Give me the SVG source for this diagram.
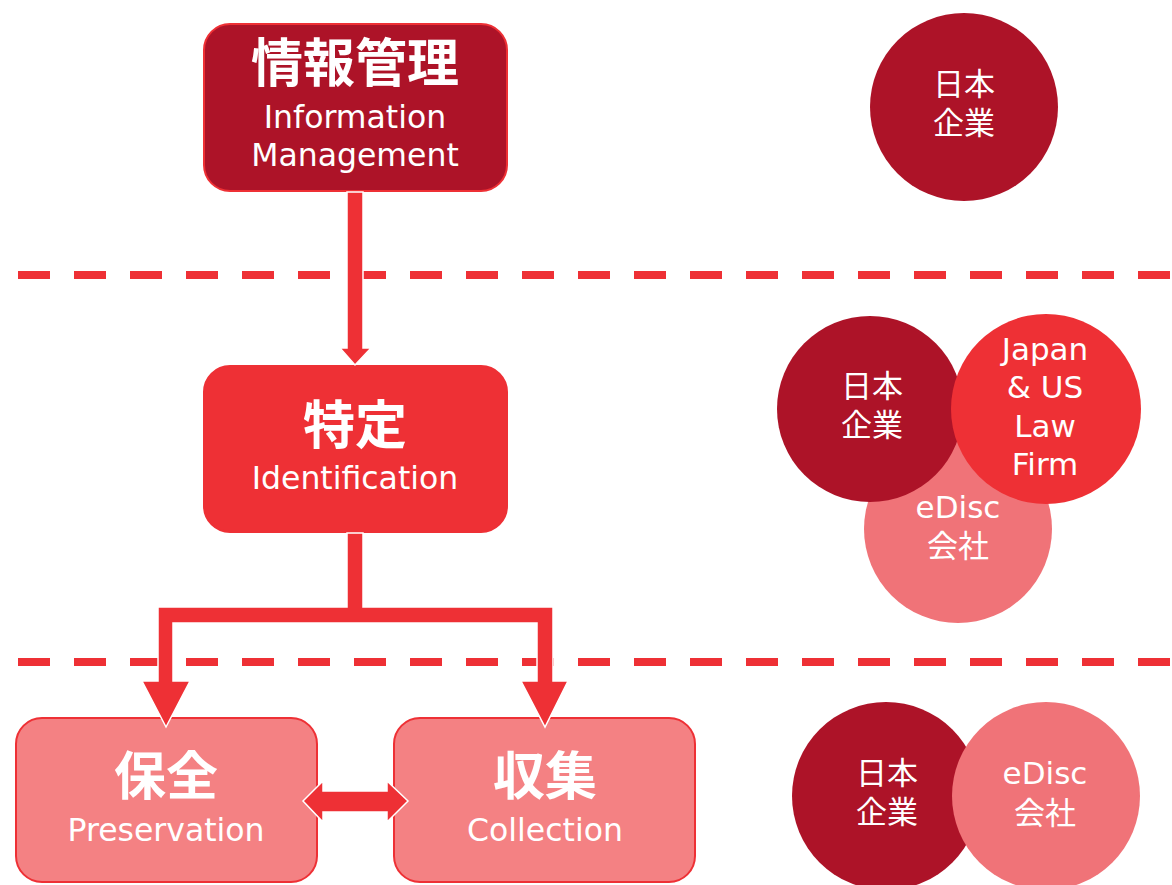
<svg xmlns="http://www.w3.org/2000/svg" width="1172" height="885" viewBox="0 0 1172 885">
<style>
.en{font-family:"DejaVu Sans","Liberation Sans",sans-serif;fill:#fff;text-anchor:middle}
.jp{font-family:"Noto Sans CJK JP",sans-serif;fill:#fff;text-anchor:middle}
.jb{font-family:"Noto Sans CJK JP",sans-serif;fill:#fff;text-anchor:middle;font-weight:bold;font-size:52px}
.dash{stroke:#EE3035;stroke-width:8;stroke-dasharray:32 24;fill:none}
.arrow{fill:#EE3035;stroke:#fff;stroke-width:1.5}
</style>
<rect width="1172" height="885" fill="#fff"/>
<g id="dividers">
<line class="dash" x1="18" y1="275" x2="1172" y2="275"/>
<line class="dash" x1="18" y1="662" x2="1172" y2="662"/>
</g>
<g id="info-mgmt">
<rect x="204" y="24" width="303" height="167" rx="26" fill="#AD1328" stroke="#EE3035" stroke-width="2"/>
<text class="jb" x="355" y="82">情報管理</text>
<text class="en" x="355" y="128" font-size="31.5">Information</text>
<text class="en" x="355" y="166" font-size="31.5">Management</text>
</g>
<g id="identification">
<rect x="204" y="366" width="303" height="166" rx="26" fill="#EE3035" stroke="#EE3035" stroke-width="2"/>
<text class="jb" x="355" y="444">特定</text>
<text class="en" x="355" y="489" font-size="31.5">Identification</text>
</g>
<g id="preservation">
<rect x="16" y="718" width="301" height="164" rx="26" fill="#F48183" stroke="#EE3035" stroke-width="2"/>
<text class="jb" x="166" y="795">保全</text>
<text class="en" x="166" y="841" font-size="31.5">Preservation</text>
</g>
<g id="collection">
<rect x="394" y="718" width="301" height="164" rx="26" fill="#F48183" stroke="#EE3035" stroke-width="2"/>
<text class="jb" x="545" y="795">収集</text>
<text class="en" x="545" y="841" font-size="31.5">Collection</text>
</g>
<g id="connectors">
<polygon class="arrow" points="347,192 363,192 363,348 371,348 355,365 340,348 347,348"/>
<polygon class="arrow" points="347,533 363,533 363,607 553,607 553,681 568,681 545,727 521,681 537,681 537,623 173,623 173,681 190,681 166,727 142,681 158,681 158,607 347,607"/>
<polygon class="arrow" points="303,801 323,781 323,791 387,791 387,781 408,801 387,822 387,812 323,812 323,822"/>
</g>
<g id="circle-top">
<circle cx="964" cy="107" r="94" fill="#AD1328"/>
<text class="jp" x="964" y="95" font-size="31">日本</text>
<text class="jp" x="964" y="134" font-size="31">企業</text>
</g>
<g id="circles-mid">
<circle cx="958" cy="529" r="94" fill="#F07378"/>
<circle cx="870" cy="409" r="93" fill="#AD1328"/>
<circle cx="1046" cy="409" r="95" fill="#EE3035"/>
<text class="jp" x="872" y="397" font-size="31">日本</text>
<text class="jp" x="872" y="436" font-size="31">企業</text>
<text class="en" x="1045" y="360" font-size="31">Japan</text>
<text class="en" x="1045" y="398" font-size="31">&amp; US</text>
<text class="en" x="1045" y="437" font-size="31">Law</text>
<text class="en" x="1045" y="475" font-size="31">Firm</text>
<text class="en" x="958" y="518" font-size="31">eDisc</text>
<text class="jp" x="958" y="557" font-size="31">会社</text>
</g>
<g id="circles-bottom">
<circle cx="886" cy="796" r="94" fill="#AD1328"/>
<circle cx="1046" cy="796" r="94" fill="#F07378"/>
<text class="jp" x="887" y="784" font-size="31">日本</text>
<text class="jp" x="887" y="823" font-size="31">企業</text>
<text class="en" x="1045" y="784" font-size="31">eDisc</text>
<text class="jp" x="1045" y="824" font-size="31">会社</text>
</g>
</svg>
